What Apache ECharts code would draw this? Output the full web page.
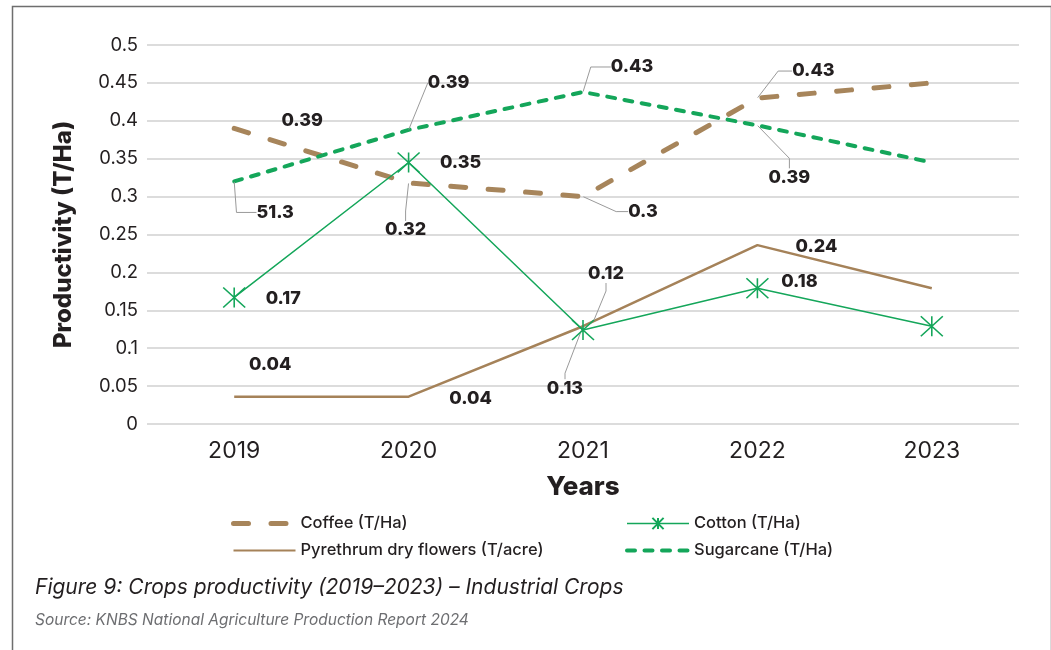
<!DOCTYPE html>
<html>
<head>
<meta charset="utf-8">
<script src="https://cdn.jsdelivr.net/npm/echarts@6/dist/echarts.min.js"></script>
<style>
  html, body { margin: 0; padding: 0; background: #ffffff; }
  #chart { width: 1051px; height: 650px; }
</style>
</head>
<body>
<div id="chart"></div>
<script>
// ---------- data ----------
const years = ['2019', '2020', '2021', '2022', '2023'];

const coffee      = [0.39, 0.318, 0.30, 0.43, 0.45];
const cotton      = [0.167, 0.345, 0.124, 0.179, 0.129];
const pyrethrum   = [0.036, 0.036, 0.129, 0.236, 0.179];
const sugarcane   = [0.32, 0.388, 0.438, 0.394, 0.345];

// data label texts as printed in the figure (null = no label)
const coffeeLabels    = ['0.39', '0.32', '0.3', '0.43', null];
const cottonLabels    = ['0.17', '0.35', '0.12', '0.18', null];
const pyrethrumLabels = ['0.04', '0.04', '0.13', '0.24', null];
const sugarcaneLabels = ['51.3', '0.39', '0.43', '0.39', null];

const yTicks = { min: 0, max: 0.5, interval: 0.05 };

// ---------- label placement (style): [dx, dy, leaderLength2 or null for no leader] ----------
const coffeePlace    = [[68, -8, null], [-3, 47, 10], [60, 15, 12], [56, -27, 14], null];
const cottonPlace    = [[49, 1, null], [52, 0, null], [23, -56, 8], [42, -7, null], null];
const pyrethrumPlace = [[36, -32, null], [62, 2, null], [-18, 62, 6], [59, 1, null], null];
const sugarcanePlace = [[41, 31, 20], [40, -47, 0], [49, -25, 20], [32, 52, 10], null];

const BROWN = '#a7855b';
const BROWN2 = '#a58259';
const GREEN = '#14a65a';
const TEXT = '#231f20';
const FONT = 'Inter, "Noto Sans", sans-serif';

function buildData(values, texts, place) {
  return values.map((v, i) => {
    const p = place[i];
    return {
      value: v,
      label: { show: texts[i] != null, formatter: texts[i] == null ? '' : texts[i] },
      labelLine: { show: !!(p && p[2] != null), length2: p && p[2] != null ? p[2] : 0 }
    };
  });
}

function layoutFn(place) {
  return function (params) {
    const p = place[params.dataIndex];
    return p ? { dx: p[0], dy: p[1] } : {};
  };
}

const commonLabel = {
  position: 'inside',
  color: TEXT,
  fontFamily: FONT,
  fontWeight: 800,
  fontSize: 18,
  padding: [0, 4]
};
const commonLabelLine = {
  lineStyle: { color: '#9a9a9a', width: 1 }
};

const chart = echarts.init(document.getElementById('chart'), null, { renderer: 'canvas' });

const legendText = { fontFamily: FONT, fontSize: 16.5, fontWeight: 500, color: TEXT };

const option = {
  animation: false,
  backgroundColor: '#ffffff',
  textStyle: { fontFamily: FONT },
  graphic: [
    {
      type: 'rect',
      left: 10, top: 4,
      shape: { width: 1039, height: 720 },
      style: { fill: 'none', stroke: '#6e6e6e', lineWidth: 1.5 },
      silent: true
    }
  ],
  title: [
    {
      text: 'Figure 9: Crops productivity (2019–2023) – Industrial Crops',
      left: 30, top: 572,
      textStyle: { fontFamily: FONT, fontStyle: 'italic', fontWeight: 'normal', fontSize: 21, color: TEXT }
    },
    {
      text: 'Source: KNBS National Agriculture Production Report 2024',
      left: 30, top: 607,
      textStyle: { fontFamily: FONT, fontStyle: 'italic', fontWeight: 'normal', fontSize: 15.5, color: '#6d6e71' }
    }
  ],
  legend: [
    {
      orient: 'vertical',
      left: 226, top: 510,
      itemWidth: 62, itemHeight: 14, itemGap: 10,
      data: [
        { name: 'Coffee (T/Ha)', lineStyle: { width: 5 } },
        { name: 'Pyrethrum dry flowers (T/acre)', lineStyle: { width: 2 } }
      ],
      textStyle: legendText
    },
    {
      orient: 'vertical',
      left: 620, top: 510,
      itemWidth: 62, itemHeight: 14, itemGap: 10,
      data: [
        { name: 'Cotton (T/Ha)', lineStyle: { width: 1.5 } },
        { name: 'Sugarcane (T/Ha)', lineStyle: { width: 4 } }
      ],
      textStyle: legendText
    }
  ],
  grid: { left: 147, right: 32, top: 45, bottom: 226, containLabel: false },
  xAxis: {
    type: 'category',
    data: years,
    boundaryGap: true,
    axisLine: { show: false },
    axisTick: { show: false },
    axisLabel: { fontFamily: FONT, fontSize: 23, color: TEXT, margin: 16 },
    name: 'Years',
    nameLocation: 'middle',
    nameGap: 50,
    nameTextStyle: { fontFamily: FONT, fontSize: 26, fontWeight: 800, color: TEXT }
  },
  yAxis: {
    type: 'value',
    min: yTicks.min, max: yTicks.max, interval: yTicks.interval,
    axisLine: { show: false },
    axisTick: { show: false },
    axisLabel: { fontFamily: FONT, fontSize: 18.5, color: TEXT, margin: 9 },
    splitLine: { lineStyle: { color: '#dcdcdc', width: 2 } },
    name: 'Productivity (T/Ha)',
    nameLocation: 'middle',
    nameGap: 71,
    nameTextStyle: { fontFamily: FONT, fontSize: 24, fontWeight: 800, color: TEXT }
  },
  series: [
    {
      name: 'Coffee (T/Ha)',
      type: 'line',
      data: buildData(coffee, coffeeLabels, coffeePlace),
      symbol: 'circle', symbolSize: 1,
      itemStyle: { color: 'rgba(0,0,0,0)', borderWidth: 0 },
      lineStyle: { color: BROWN, width: 5, type: [15, 22.5], cap: 'round' },
      label: Object.assign({ show: true }, commonLabel),
      labelLine: commonLabelLine,
      labelLayout: layoutFn(coffeePlace),
      z: 3
    },
    {
      name: 'Cotton (T/Ha)',
      type: 'line',
      data: buildData(cotton, cottonLabels, cottonPlace),
      symbol: 'path://M0,0L20,20M20,0L0,20M10,0L10,20',
      symbolSize: [22, 20],
      itemStyle: { color: GREEN, borderColor: GREEN, borderWidth: 1.5 },
      lineStyle: { color: GREEN, width: 1.5 },
      label: Object.assign({ show: true }, commonLabel),
      labelLine: commonLabelLine,
      labelLayout: layoutFn(cottonPlace),
      z: 4
    },
    {
      name: 'Pyrethrum dry flowers (T/acre)',
      type: 'line',
      data: buildData(pyrethrum, pyrethrumLabels, pyrethrumPlace),
      symbol: 'circle', symbolSize: 1,
      itemStyle: { color: 'rgba(0,0,0,0)', borderWidth: 0 },
      lineStyle: { color: BROWN2, width: 2.5 },
      label: Object.assign({ show: true }, commonLabel),
      labelLine: commonLabelLine,
      labelLayout: layoutFn(pyrethrumPlace),
      z: 3
    },
    {
      name: 'Sugarcane (T/Ha)',
      type: 'line',
      data: buildData(sugarcane, sugarcaneLabels, sugarcanePlace),
      symbol: 'circle', symbolSize: 1,
      itemStyle: { color: 'rgba(0,0,0,0)', borderWidth: 0 },
      lineStyle: { color: GREEN, width: 4, type: [8, 9.5], cap: 'round' },
      label: Object.assign({ show: true }, commonLabel),
      labelLine: commonLabelLine,
      labelLayout: layoutFn(sugarcanePlace),
      z: 3
    }
  ]
};

chart.setOption(option);
</script>
</body>
</html>
